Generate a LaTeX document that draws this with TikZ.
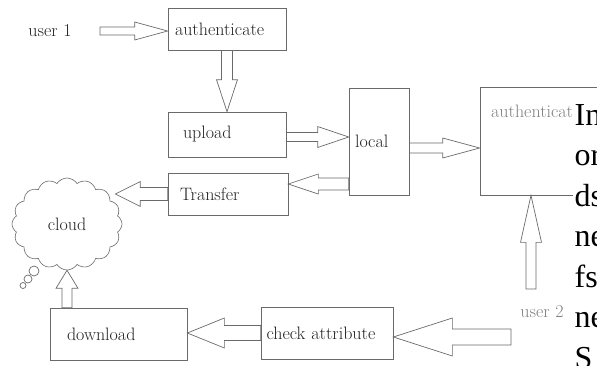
\documentclass[tikz,border=0pt]{standalone}
\usepackage{fontspec}
\newfontfamily\pagefont{Liberation Serif}
\usetikzlibrary{calc, positioning, shapes.symbols}
\definecolor{linegray}{HTML}{6a6a6a}
\definecolor{textgray}{HTML}{222222}
\definecolor{fadegray}{HTML}{808080}

\newcommand{\fatarrow}[5]{%
  \coordinate (fa-h) at ($(#2)!#5pt!(#1)$);
  \draw[fatline] ($(#1)!#3pt!90:(#2)$) -- ($(fa-h)!#3pt!90:(#2)$) -- ($(fa-h)!#4pt!90:(#2)$) -- (#2)
    -- ($(fa-h)!#4pt!-90:(#2)$) -- ($(fa-h)!#3pt!-90:(#2)$) -- ($(#1)!#3pt!-90:(#2)$) -- cycle;}

\begin{document}
\begin{tikzpicture}[x=1pt, y=-1pt,
    label/.style={font=\fontsize{18}{20}\selectfont, text=textgray},
    box/.style={draw=linegray, line width=0.7pt, label, align=left, inner ysep=0pt},
    fatline/.style={draw=linegray, line width=0.7pt, line join=miter},
    pagetext/.style={font=\pagefont\fontsize{32}{36}\selectfont, anchor=base west, fill=white, inner sep=1.5pt}]
        \useasboundingbox (0,0) rectangle (597,365);
        \clip (0,0) rectangle (597,365);

        \node[label] (user1) at (50,31) {user 1};
        \node[box, text width=104pt, inner xsep=7pt, minimum height=42pt] (auth) at (227,29) {authenticate};
        \node[box, text width=88pt, inner xsep=15pt, minimum height=45pt] (upload) at (227,134.5) {upload};
        \node[box, text width=96pt, inner xsep=12pt, minimum height=42pt] (Transfer) at (228,194) {Transfer};
        \node[box, text width=48pt, inner xsep=6pt, minimum height=107pt] (local) at (379,141.5) {local};
        \node[box, minimum width=160pt, minimum height=108pt] (auth2) at (560,141) {};
        \node[label, text=fadegray, anchor=west] (auth2text) at ([xshift=8pt, yshift=-25pt]auth2.north west) {authenticate};
        \node[box, text width=103pt, inner xsep=17pt, minimum height=52pt] (download) at (118.5,334) {download};
        \node[box, text width=121pt, inner xsep=5.5pt, minimum height=52pt] (check) at (327,333) {check attribute};
        \node[cloud, cloud puffs=16, cloud puff arc=115, draw=linegray, line width=0.6pt, label, inner sep=0pt,
              minimum width=110pt, minimum height=92pt] (cloud) at (67,224) {cloud};
        \node[label, text=fadegray] (user2) at (542,312) {user 2};

        \draw[fatline] (34,271) circle (5);
        \draw[fatline] (28,279) circle (4);
        \draw[fatline] (23,285.5) circle (3);

        \coordinate (u1end) at (100,31);
        \coordinate (u1tip) at (u1end -| auth.west);
        \fatarrow{u1end}{u1tip}{4}{9}{33}
        \fatarrow{auth.south}{upload.north}{5.5}{10.5}{32}
        \coordinate (up-out) at ([yshift=-2.5pt]upload.east);
        \coordinate (lo-in) at (up-out -| local.west);
        \fatarrow{up-out}{lo-in}{4.5}{10.5}{31}
        \coordinate (tr-in) at ([yshift=10pt]Transfer.east);
        \coordinate (lo-out) at (tr-in -| local.west);
        \fatarrow{lo-out}{tr-in}{6}{10}{30}
        \coordinate (lo-right) at ([yshift=-6.5pt]local.east);
        \coordinate (au-in) at (lo-right -| auth2.west);
        \fatarrow{lo-right}{au-in}{5}{10}{37}
        \coordinate (cl-in) at ($(Transfer.west -| cloud.east)+(-7,0)$);
        \fatarrow{Transfer.west}{cl-in}{6.5}{12.5}{25}
        \coordinate (dl-out) at (download.north -| cloud.south);
        \fatarrow{dl-out}{cloud.south}{5}{11}{18}
        \coordinate (dl-in) at (check.west -| download.east);
        \fatarrow{check.west}{dl-in}{7.5}{15}{37}
        \coordinate (u2end) at (511,337);
        \coordinate (ck-in) at (u2end -| check.east);
        \fatarrow{u2end}{ck-in}{8}{19}{59}
        \coordinate (u2up) at (531,289);
        \coordinate (au-low) at (u2up |- auth2.south);
        \fatarrow{u2up}{au-low}{5}{10.5}{47}

        \foreach \w [count=\i from 0] in {In,or,ds,ne,fs,ne,S}
            \node[pagetext] (page\i) at (573,{125+40.5*\i}) {\w};
    \end{tikzpicture}
\end{document}
